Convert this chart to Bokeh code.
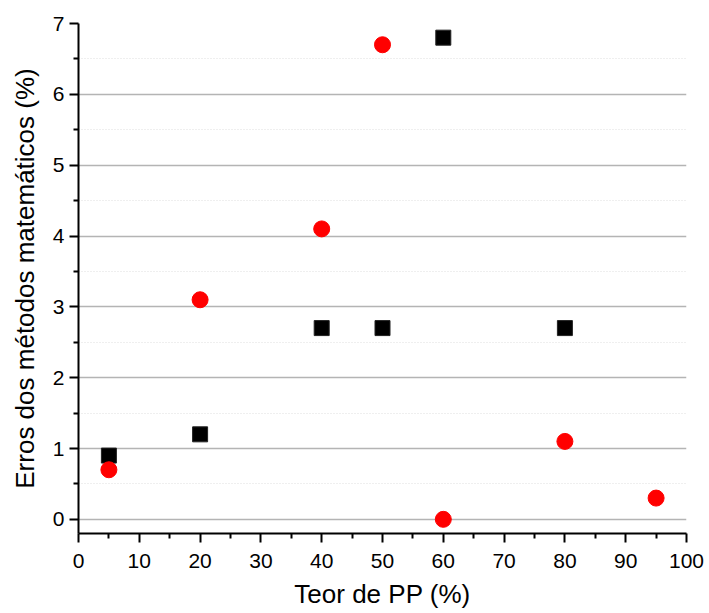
from bokeh.plotting import figure
from bokeh.models import Range1d, FixedTicker
from bokeh.embed import file_html
from bokeh.resources import INLINE

# Teor de PP (%) and the errors of the two mathematical methods
teor_circulos = [5, 20, 40, 50, 60, 80, 95]
erro_circulos = [0.7, 3.1, 4.1, 6.7, 0.0, 1.1, 0.3]

teor_quadrados = [5, 20, 40, 50, 60, 80]
erro_quadrados = [0.9, 1.2, 2.7, 2.7, 6.8, 2.7]

x_ticks = list(range(0, 101, 10))
x_minor = list(range(5, 100, 10))
y_ticks = [0, 1, 2, 3, 4, 5, 6, 7]
y_minor = [0.5, 1.5, 2.5, 3.5, 4.5, 5.5, 6.5]

FONT = "Liberation Sans"

p = figure(width=709, height=613, output_backend="svg", toolbar_location=None,
           x_range=Range1d(0, 100), y_range=Range1d(-0.2, 7),
           min_border_left=78, min_border_right=23, min_border_top=23,
           min_border_bottom=80)
p.outline_line_color = None
p.background_fill_color = "white"

# axes
for ax in (p.xaxis[0], p.yaxis[0]):
    ax.axis_line_width = 2
    ax.axis_line_color = "black"
    ax.major_tick_line_width = 2
    ax.minor_tick_line_width = 2
    ax.major_tick_out = 9
    ax.major_tick_in = 0
    ax.minor_tick_out = 5
    ax.minor_tick_in = 0
    ax.major_label_text_font = FONT
    ax.major_label_text_font_size = "21px"
    ax.major_label_text_color = "black"
    ax.axis_label_text_font = FONT
    ax.axis_label_text_font_size = "26px"
    ax.axis_label_text_font_style = "normal"
    ax.axis_label_text_color = "black"

p.xaxis[0].ticker = FixedTicker(ticks=x_ticks, minor_ticks=x_minor)
p.yaxis[0].ticker = FixedTicker(ticks=y_ticks, minor_ticks=y_minor)
p.xaxis[0].axis_label = "Teor de PP (%)"
p.yaxis[0].axis_label = "Erros dos métodos matemáticos (%)"
p.xaxis[0].major_label_standoff = 11
p.yaxis[0].major_label_standoff = 5
p.xaxis[0].axis_label_standoff = 8
p.yaxis[0].axis_label_standoff = 10

# grid: horizontal only, solid at integers, dotted in between
p.xgrid.visible = False
p.ygrid.ticker = FixedTicker(ticks=[0, 1, 2, 3, 4, 5, 6], minor_ticks=y_minor)
p.ygrid.grid_line_color = "#b4b4b4"
p.ygrid.grid_line_width = 1.5
p.ygrid.minor_grid_line_color = "#dedede"
p.ygrid.minor_grid_line_dash = "1 2"
p.ygrid.minor_grid_line_width = 1

p.scatter(teor_quadrados, erro_quadrados, marker="square", size=15,
          fill_color="black", line_color="#222222", line_width=1)
p.scatter(teor_circulos, erro_circulos, marker="circle", size=16,
          fill_color="#ff0000", line_color="#ff0000", line_width=1)

open("out.html", "w").write(file_html(p, INLINE))
